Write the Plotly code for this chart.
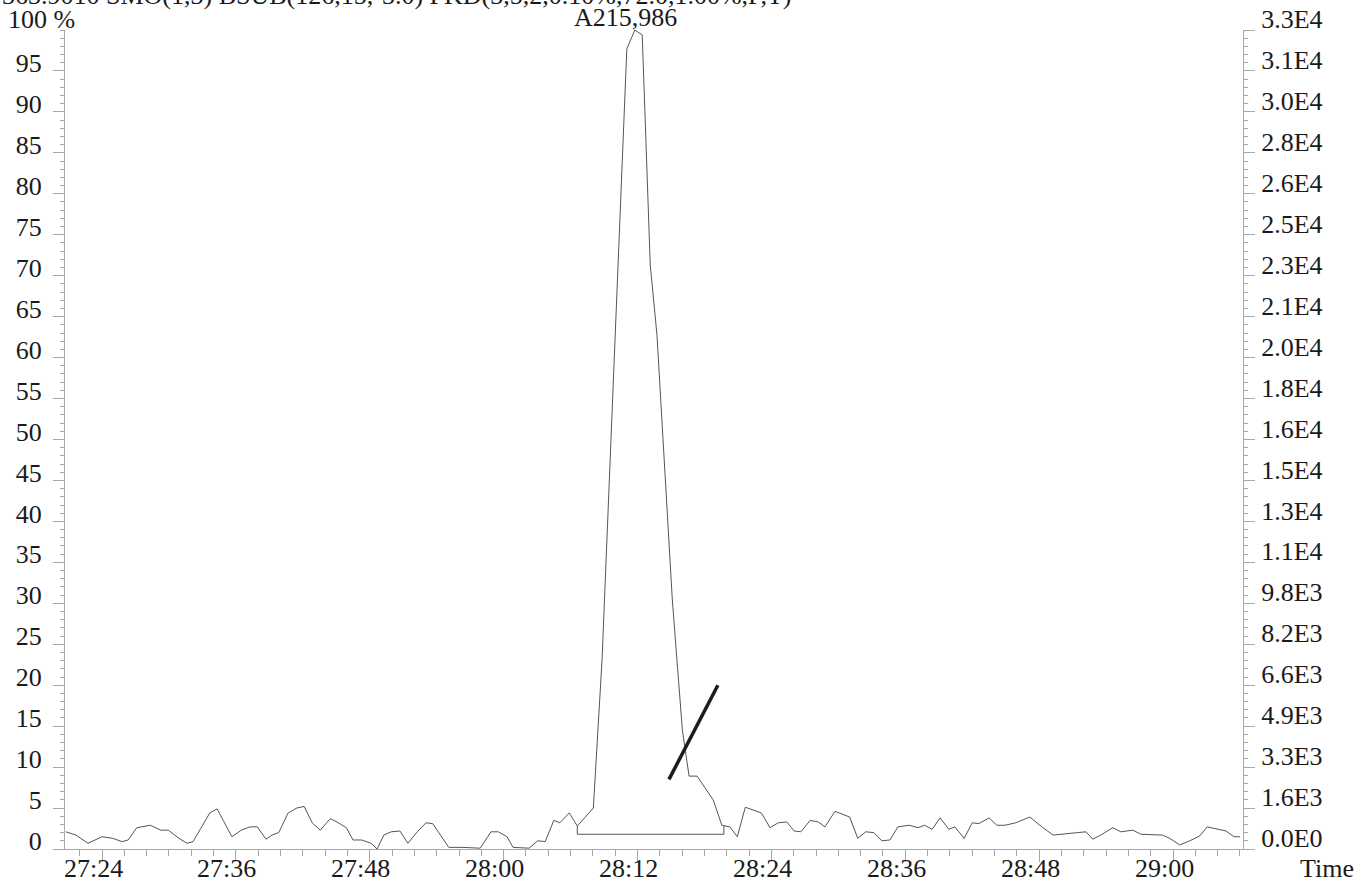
import plotly.graph_objects as go

# ---------------- data (time in minutes, intensity in % of base peak) ----------------
TIME_MIN = [
    27.346, 27.361, 27.379, 27.400, 27.416, 27.430, 27.439, 27.452, 27.472, 27.488,
    27.499, 27.515, 27.527, 27.536, 27.561, 27.572, 27.581, 27.594, 27.608, 27.621,
    27.632, 27.645, 27.654, 27.664, 27.678, 27.691, 27.702, 27.714, 27.726, 27.741,
    27.751, 27.765, 27.775, 27.788, 27.802, 27.811, 27.821, 27.832, 27.845, 27.857,
    27.871, 27.884, 27.894, 27.918, 27.938, 27.965, 27.981, 27.992, 28.005, 28.014,
    28.038, 28.051, 28.062, 28.075, 28.084, 28.098, 28.110, 28.122, 28.134, 28.147,
    28.184, 28.196, 28.207, 28.219, 28.229, 28.252, 28.267, 28.277, 28.289, 28.313,
    28.326, 28.338, 28.349, 28.361, 28.385, 28.398, 28.410, 28.423, 28.434, 28.444,
    28.458, 28.470, 28.480, 28.495, 28.517, 28.529, 28.541, 28.553, 28.565, 28.577,
    28.589, 28.606, 28.619, 28.629, 28.640, 28.652, 28.665, 28.674, 28.688, 28.700,
    28.710, 28.725, 28.737, 28.749, 28.765, 28.786, 28.804, 28.821, 28.837, 28.857,
    28.870, 28.880, 28.892, 28.910, 28.922, 28.940, 28.952, 28.970, 28.984, 28.995,
    29.010, 29.025, 29.040, 29.051, 29.067, 29.079, 29.091, 29.100,
]
INTENSITY_PCT = [
    2.1, 1.7, 0.7, 1.5, 1.3, 0.9, 1.1, 2.6, 2.9, 2.3,
    2.3, 1.3, 0.7, 0.9, 4.4, 4.9, 3.5, 1.5, 2.3, 2.7,
    2.7, 1.2, 1.7, 2.0, 4.4, 5.0, 5.2, 3.2, 2.3, 3.7,
    3.3, 2.6, 1.1, 1.1, 0.7, 0.0, 1.7, 2.1, 2.2, 0.7,
    2.1, 3.2, 3.1, 0.2, 0.2, 0.1, 2.1, 2.1, 1.5, 0.2,
    0.1, 1.0, 0.9, 3.5, 3.2, 4.4, 2.8, 3.9, 5.0, 23.1,
    97.7, 100.0, 99.4, 71.3, 62.8, 30.4, 14.5, 8.9, 8.9, 6.0,
    2.9, 2.7, 1.5, 5.1, 4.4, 2.6, 3.2, 3.3, 2.2, 2.1,
    3.5, 3.3, 2.7, 4.6, 3.9, 1.3, 2.1, 2.0, 1.0, 1.1,
    2.7, 2.9, 2.6, 2.9, 2.4, 3.8, 2.4, 2.7, 1.3, 3.2,
    3.1, 3.8, 2.9, 2.9, 3.2, 3.9, 2.7, 1.7, 1.8, 2.0,
    2.1, 1.2, 1.7, 2.6, 2.1, 2.3, 1.8, 1.7, 1.7, 1.3,
    0.5, 1.0, 1.6, 2.7, 2.4, 2.2, 1.5, 1.5,
]

# integration baseline of the detected peak
BASELINE_T = [28.110, 28.110, 28.329, 28.329]
BASELINE_P = [2.8, 1.8, 1.8, 2.8]

# hand-drawn pen stroke on the printout
STROKE_T = [28.247, 28.320]
STROKE_P = [8.5, 20.0]

PEAK_LABEL = "A215,986"
PEAK_T = 28.196
PEAK_P = 100.0

HEADER = "363.9010 SMO(1,3) BSUB(126,15,-3.0) PKD(3,5,2,0.10%,72.0,1.00%,F,T)"

X_TICK_VALS = [27.4, 27.6, 27.8, 28.0, 28.2, 28.4, 28.6, 28.8, 29.0]
X_TICK_TEXT = ["27:24", "27:36", "27:48", "28:00", "28:12", "28:24", "28:36", "28:48", "29:00"]

Y_TICK_VALS = [0, 5, 10, 15, 20, 25, 30, 35, 40, 45, 50, 55, 60, 65, 70, 75, 80, 85, 90, 95]
Y_TICK_TEXT = [str(v) for v in Y_TICK_VALS]

Y2_TICK_VALS = [0, 5, 10, 15, 20, 25, 30, 35, 40, 45, 50, 55, 60, 65, 70, 75, 80, 85, 90, 95, 100]
Y2_TICK_TEXT = ["0.0E0", "1.6E3", "3.3E3", "4.9E3", "6.6E3", "8.2E3", "9.8E3", "1.1E4", "1.3E4",
                "1.5E4", "1.6E4", "1.8E4", "2.0E4", "2.1E4", "2.3E4", "2.5E4", "2.6E4", "2.8E4",
                "3.0E4", "3.1E4", "3.3E4"]

# ---------------- figure ----------------
FONT = "Liberation Serif, Times New Roman, serif"
TXT = "#1a1a1a"
AXC = "#a8a8a8"
LINE = "#555555"

fig = go.Figure()
fig.add_trace(go.Scatter(x=TIME_MIN, y=INTENSITY_PCT, mode="lines",
                         line=dict(color=LINE, width=1), hoverinfo="skip", showlegend=False))
fig.add_trace(go.Scatter(x=BASELINE_T, y=BASELINE_P, mode="lines", yaxis="y2",
                         line=dict(color=LINE, width=1), hoverinfo="skip", showlegend=False))
fig.add_trace(go.Scatter(x=STROKE_T, y=STROKE_P, mode="lines",
                         line=dict(color="#1c1c1c", width=3.5), hoverinfo="skip", showlegend=False))

x_lo, x_hi = 27.3447, 29.1045

fig.update_layout(
    width=1363, height=884,
    margin=dict(l=65, r=120, t=30, b=35, pad=0, autoexpand=False),
    paper_bgcolor="white", plot_bgcolor="white",
    font=dict(family=FONT, size=26, color=TXT),
    showlegend=False,
    xaxis=dict(
        range=[x_lo, x_hi], showgrid=False, zeroline=False, automargin=False,
        showline=True, linecolor=AXC, linewidth=1,
        tickmode="array", tickvals=X_TICK_VALS, ticktext=X_TICK_TEXT,
        showticklabels=False,
        ticks="outside", ticklen=12, tickcolor=AXC, tickwidth=1,
        minor=dict(tickmode="linear", tick0=27.4, dtick=1/30, ticks="outside",
                   ticklen=6, tickcolor=AXC, tickwidth=1, showgrid=False),
    ),
    yaxis=dict(
        range=[0, 100], showgrid=False, zeroline=False, automargin=False,
        showline=True, linecolor=AXC, linewidth=1,
        tickmode="array", tickvals=Y_TICK_VALS, ticktext=Y_TICK_TEXT,
        ticks="outside", ticklen=11, tickcolor=AXC, tickwidth=1,
        ticklabelstandoff=6, ticklabelshift=-8, ticklabeloverflow="allow",
        tickfont=dict(family=FONT, size=26, color=TXT),
        minor=dict(tickmode="linear", tick0=0, dtick=1, ticks="outside",
                   ticklen=4, tickcolor=AXC, tickwidth=1, showgrid=False),
    ),
    yaxis2=dict(
        range=[0, 100], overlaying="y", side="right", showgrid=False, zeroline=False,
        automargin=False,
        showline=True, linecolor=AXC, linewidth=1,
        tickmode="array", tickvals=Y2_TICK_VALS, ticktext=Y2_TICK_TEXT,
        ticks="outside", ticklen=11, tickcolor=AXC, tickwidth=1,
        ticklabelstandoff=1, ticklabelshift=-11, ticklabeloverflow="allow",
        tickfont=dict(family=FONT, size=26, color=TXT),
        minor=dict(tickmode="linear", tick0=0, dtick=1, ticks="outside",
                   ticklen=4, tickcolor=AXC, tickwidth=1, showgrid=False),
    ),
)

# time tick labels (printed slightly left of their ticks, as on the original)
for tv, tt in zip(X_TICK_VALS, X_TICK_TEXT):
    fig.add_annotation(x=tv, y=0, xref="x", yref="paper", text=tt, showarrow=False,
                       xanchor="center", yanchor="middle", xshift=-9, yshift=-19,
                       font=dict(family=FONT, size=26, color=TXT))

fig.add_annotation(x=PEAK_T, y=PEAK_P, xref="x", yref="y", text=PEAK_LABEL,
                   showarrow=False, xanchor="center", yanchor="bottom", xshift=-9, yshift=-4,
                   font=dict(family=FONT, size=26, color=TXT))
fig.add_annotation(x=0, y=100, xref="paper", yref="y", text="100 %",
                   showarrow=False, xanchor="right", yanchor="bottom", xshift=12, yshift=-6,
                   font=dict(family=FONT, size=26, color=TXT))
fig.add_annotation(x=1, y=0, xref="paper", yref="paper", text="Time",
                   showarrow=False, xanchor="left", yanchor="middle", xshift=55, yshift=-19,
                   font=dict(family=FONT, size=26, color=TXT))
fig.add_annotation(x=0, y=1, xref="paper", yref="paper", text=HEADER,
                   showarrow=False, xanchor="left", yanchor="bottom", xshift=-65, yshift=18,
                   font=dict(family=FONT, size=26, color=TXT))

fig.write_html("out.html", include_plotlyjs=True,
               config={"displayModeBar": False},
               post_script="document.body.style.margin='0px';")
